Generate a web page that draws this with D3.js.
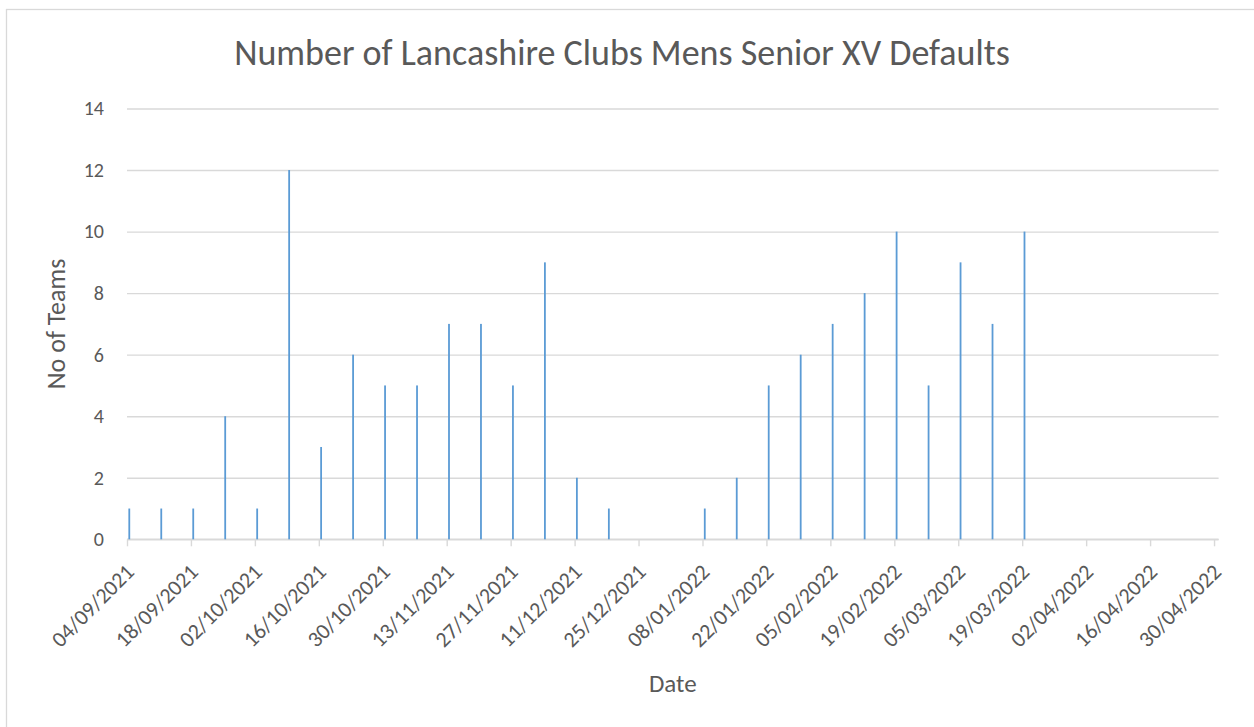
<!DOCTYPE html>
<html>
<head>
<meta charset="utf-8">
<script src="https://cdn.jsdelivr.net/npm/d3@7"></script>
<style>
  html, body { margin: 0; padding: 0; background: #fff; }
  svg { display: block; }
  text { font-family: Calibri, Carlito, Lato, "Open Sans", sans-serif; fill: #595959; }
</style>
</head>
<body>
<svg id="chart" width="1254" height="727"></svg>
<script>
// ---- data ----
const title = "Number of Lancashire Clubs Mens Senior XV Defaults";
const xTitle = "Date";
const yTitle = "No of Teams";

const dates = [
  "04/09/2021","11/09/2021","18/09/2021","25/09/2021","02/10/2021","09/10/2021",
  "16/10/2021","23/10/2021","30/10/2021","06/11/2021","13/11/2021","20/11/2021",
  "27/11/2021","04/12/2021","11/12/2021","18/12/2021","25/12/2021","01/01/2022",
  "08/01/2022","15/01/2022","22/01/2022","29/01/2022","05/02/2022","12/02/2022",
  "19/02/2022","26/02/2022","05/03/2022","12/03/2022","19/03/2022"
];
const values = [
  1,1,1,4,1,12,
  3,6,5,5,7,7,
  5,9,2,1,0,0,
  1,2,5,6,7,8,
  10,5,9,7,10
];
const tickLabels = [
  "04/09/2021","18/09/2021","02/10/2021","16/10/2021","30/10/2021","13/11/2021",
  "27/11/2021","11/12/2021","25/12/2021","08/01/2022","22/01/2022","05/02/2022",
  "19/02/2022","05/03/2022","19/03/2022","02/04/2022","16/04/2022","30/04/2022"
];
const yTicks = [0,2,4,6,8,10,12,14];
const axisStart = "04/09/2021";
const axisEnd = "01/05/2022";

// ---- layout ----
const parse = d3.utcParse("%d/%m/%Y");
const fmt = d3.utcFormat("%d/%m/%Y");
const svg = d3.select("#chart");
const plot = { left: 127, right: 1218.6, top: 108.5, bottom: 539.3 };

const x = d3.scaleUtc()
  .domain([parse(axisStart), parse(axisEnd)])
  .range([plot.left, plot.right]);
const y = d3.scaleLinear().domain([0, 14]).range([plot.bottom, plot.top]);

// chart frame
svg.append("rect")
  .attr("x", 6.5).attr("y", 9.5)
  .attr("width", 1300).attr("height", 800)
  .attr("fill", "none").attr("stroke", "#D9D9D9").attr("stroke-width", 1.3);

// gridlines + y labels
const yAxis = d3.axisLeft(y).tickValues(yTicks)
  .tickSize(-(plot.right - plot.left)).tickPadding(23);
const gy = svg.append("g").attr("transform", `translate(${plot.left},0)`).call(yAxis);
gy.select(".domain").remove();
gy.selectAll(".tick line").attr("stroke", "#D9D9D9").attr("stroke-width", 1.4);
gy.selectAll(".tick text")
  .style("font-size", "20px").attr("fill", "#595959");

// x axis
const tickDates = tickLabels.map(parse);
const xAxis = d3.axisBottom(x).tickValues(tickDates).tickSize(7).tickFormat(fmt);
const gx = svg.append("g").attr("transform", `translate(0,${plot.bottom})`).call(xAxis);
gx.select(".domain").attr("stroke", "#D9D9D9").attr("stroke-width", 1.6)
  .attr("d", `M${plot.left},0H${plot.right}`);
gx.selectAll(".tick line").attr("stroke", "#D9D9D9").attr("stroke-width", 1.4);
gx.selectAll(".tick text")
  .style("font-size", "22px")
  .attr("text-anchor", "end")
  .attr("y", 0).attr("dy", 0)
  .attr("transform", "translate(8,34) rotate(-45)");

// bars (centered in their day slot)
const dayW = x(d3.utcDay.offset(parse(axisStart), 1)) - x(parse(axisStart));
const barW = 1.8;
svg.append("g").selectAll("rect")
  .data(dates.map((d, i) => ({ date: parse(d), value: values[i] })))
  .join("rect")
  .attr("x", d => x(d.date) + dayW / 2 - barW / 2)
  .attr("width", barW)
  .attr("y", d => y(d.value))
  .attr("height", d => y(0) - y(d.value))
  .attr("fill", "#5B9BD5");

// titles
svg.append("text")
  .attr("x", 622).attr("y", 65)
  .attr("text-anchor", "middle")
  .style("font-size", "36px")
  .text(title);

svg.append("text")
  .attr("x", (plot.left + plot.right) / 2).attr("y", 692)
  .attr("text-anchor", "middle")
  .style("font-size", "25px")
  .text(xTitle);

svg.append("text")
  .attr("transform", `translate(65,${(plot.top + plot.bottom) / 2}) rotate(-90)`)
  .attr("text-anchor", "middle")
  .style("font-size", "26px")
  .text(yTitle);
</script>
</body>
</html>
